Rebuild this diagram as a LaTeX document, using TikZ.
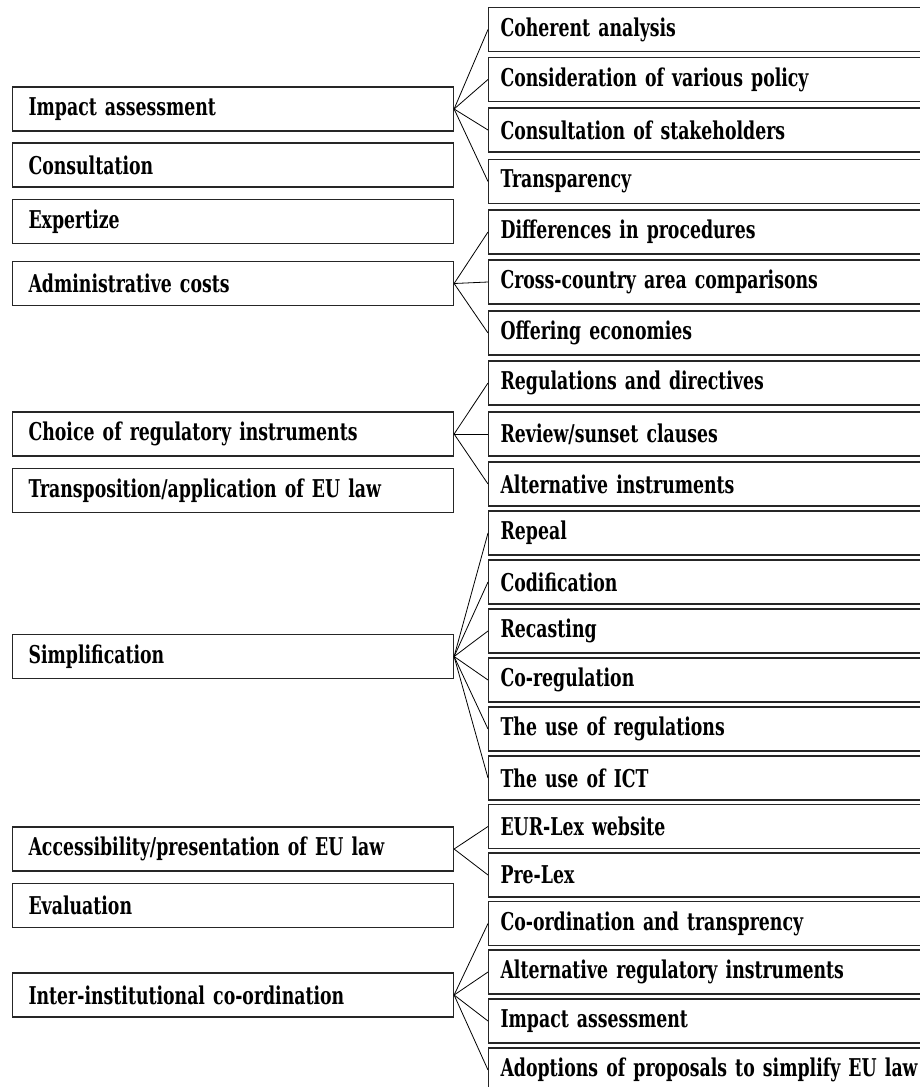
\documentclass[tikz,border=0pt]{standalone}
\usepackage{fontspec}
\setmainfont{DejaVu Serif Condensed}[FakeStretch=0.785, WordSpace=2]
\usetikzlibrary{positioning}

\begin{document}
\begin{tikzpicture}[x=1pt,y=-1pt,
    lbox/.style={rectangle, draw=black!85, line width=1.1pt,
                 anchor=west, text width=409pt, inner xsep=16pt,
                 inner ysep=0pt, minimum height=44pt, align=left,
                 font=\bfseries\fontsize{24.5}{26}\selectfont},
    rbox/.style={lbox, text width=430pt, inner xsep=12pt},
    link/.style={draw=black, line width=0.8pt}]

    \clip (0,0) rectangle (920,1087);

    % main topics
    \node[lbox] (ia)  at (12,109)   {Impact assessment};
    \node[lbox] (con) at (12,165)   {Consultation};
    \node[lbox] (exp) at (12,221.5) {Expertize};
    \node[lbox] (adm) at (12,283.5) {Administrative costs};
    \node[lbox] (cho) at (12,434)   {Choice of regulatory instruments};
    \node[lbox] (tra) at (12,490.5) {Transposition/application of EU law};
    \node[lbox] (sim) at (12,656.5) {Simplification};
    \node[lbox] (acc) at (12,849)   {Accessibility/presentation of EU law};
    \node[lbox] (eva) at (12,905.5) {Evaluation};
    \node[lbox] (iic) at (12,995)   {Inter-institutional co-ordination};

    % sub topics
    \node[rbox] (ia1) at (488,29.5)  {Coherent analysis};
    \node[rbox] (ia2) at (488,79.5)  {Consideration of various policy};
    \node[rbox] (ia3) at (488,130)   {Consultation of stakeholders};
    \node[rbox] (ia4) at (488,181.5) {Transparency};
    \node[rbox] (adm1) at (488,232)  {Differences in procedures};
    \node[rbox] (adm2) at (488,282)  {Cross-country area comparisons};
    \node[rbox] (adm3) at (488,333)  {Offering economies};
    \node[rbox] (cho1) at (488,383)  {Regulations and directives};
    \node[rbox] (cho2) at (488,434)  {Review/sunset clauses};
    \node[rbox] (cho3) at (488,484)  {Alternative instruments};
    \node[rbox] (sim1) at (488,533)  {Repeal};
    \node[rbox] (sim2) at (488,582)  {Codification};
    \node[rbox] (sim3) at (488,631)  {Recasting};
    \node[rbox] (sim4) at (488,680)  {Co-regulation};
    \node[rbox] (sim5) at (488,729)  {The use of regulations};
    \node[rbox] (sim6) at (488,778)  {The use of ICT};
    \node[rbox] (acc1) at (488,826.5) {EUR-Lex website};
    \node[rbox] (acc2) at (488,875)  {Pre-Lex};
    \node[rbox] (iic1) at (488,923.5) {Co-ordination and transprency};
    \node[rbox] (iic2) at (488,972)  {Alternative regulatory instruments};
    \node[rbox] (iic3) at (488,1021) {Impact assessment};
    \node[rbox] (iic4) at (488,1070) {Adoptions of proposals to simplify EU law};

    \path[link]
    %impact assessment
    (ia.east) edge (ia1.west)
    (ia.east) edge (ia2.west)
    (ia.east) edge (ia3.west)
    (ia.east) edge (ia4.west)
    %administrative costs
    (adm.east) edge (adm1.west)
    (adm.east) edge (adm2.west)
    (adm.east) edge (adm3.west)
    %regulatory instruments
    (cho.east) edge (cho1.west)
    (cho.east) edge (cho2.west)
    (cho.east) edge (cho3.west)
    %simplification
    (sim.east) edge (sim1.west)
    (sim.east) edge (sim2.west)
    (sim.east) edge (sim3.west)
    (sim.east) edge (sim4.west)
    (sim.east) edge (sim5.west)
    (sim.east) edge (sim6.west)
    %accessibility
    (acc.east) edge (acc1.west)
    (acc.east) edge (acc2.west)
    %co-ordination
    (iic.east) edge (iic1.west)
    (iic.east) edge (iic2.west)
    (iic.east) edge (iic3.west)
    (iic.east) edge (iic4.west) ;

\end{tikzpicture}
\end{document}
